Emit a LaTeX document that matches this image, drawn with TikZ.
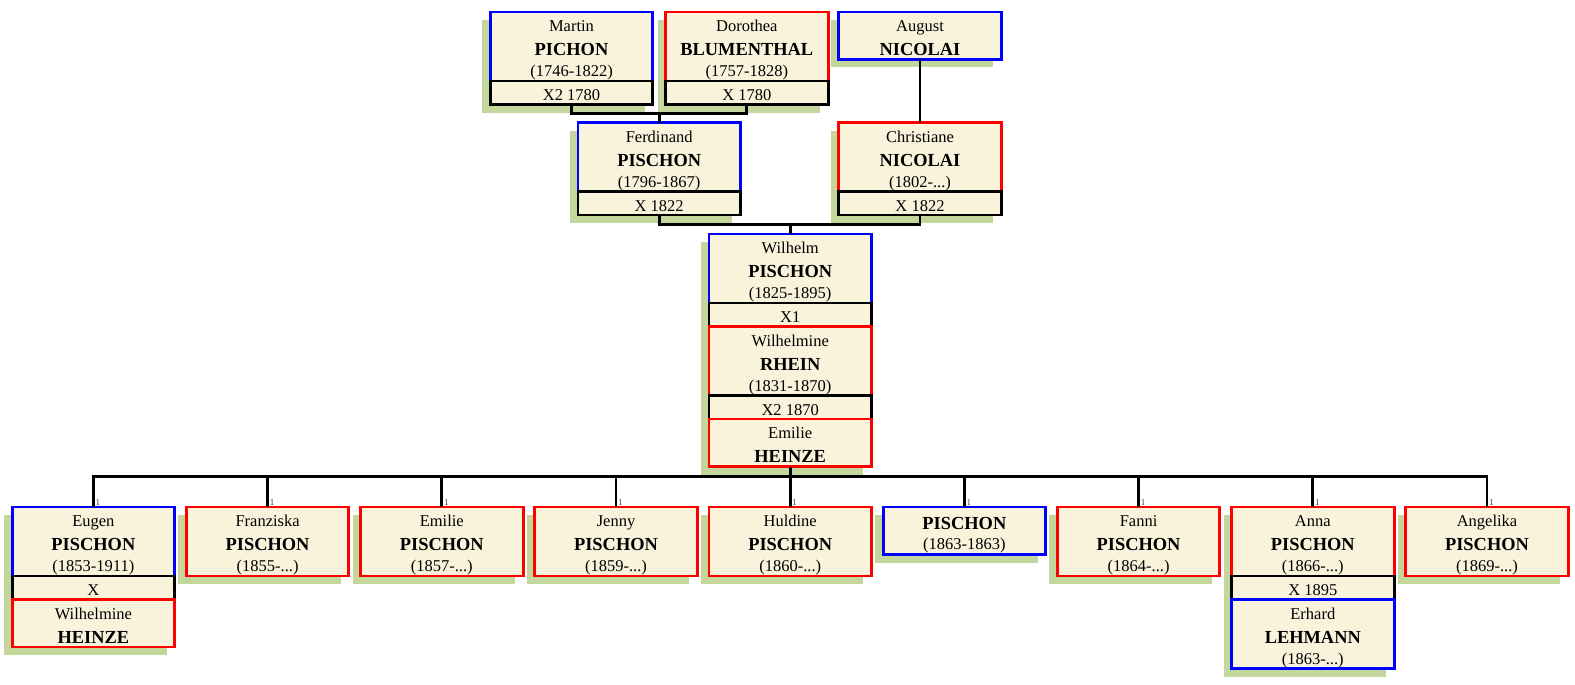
\documentclass[tikz,border=0pt]{standalone}
\usepackage{fontspec}
\setmainfont{Liberation Serif}
\usetikzlibrary{calc}
\definecolor{cream}{HTML}{FAF3DC}
\definecolor{shade}{HTML}{C3D69B}
\definecolor{mblue}{HTML}{0000FF}
\definecolor{mred}{HTML}{FF0000}
\pgfdeclarelayer{bg}
\pgfsetlayers{bg,main}
\tikzset{
  box/.style={rectangle, fill=cream, line width=2.9pt, minimum width=162.5pt,
    inner sep=0pt, outer sep=0pt, anchor=north},
  boxthree/.style={box, minimum height=69pt},
  boxtwo/.style={box, minimum height=47.5pt},
  band/.style={box, draw=black, minimum height=23.5pt},
  fn/.style={anchor=base, inner sep=0pt, font=\fontsize{16.5}{20}\selectfont},
  fb/.style={anchor=base, inner sep=0pt, font=\bfseries\fontsize{18.4}{22}\selectfont},
  onel/.style={anchor=base west, inner sep=0pt, text=black!75, font=\fontsize{9}{9}\selectfont},
  conn/.style={draw=black, line width=2.9pt},
  thinconn/.style={draw=black, line width=2pt},
  shadowbox/.style={fill=shade},
}
\newcommand\txthree[4]{%
  \node[fn] (#1a) at ([yshift=-19.5pt]#1.north) {#2};
  \node[fb] (#1b) at ([yshift=-43.5pt]#1.north) {#3};
  \node[fn] (#1c) at ([yshift=-64.5pt]#1.north) {#4};}
\newcommand\txtwo[3]{%
  \node[fn] (#1a) at ([yshift=-19.5pt]#1.north) {#2};
  \node[fb] (#1b) at ([yshift=-43.5pt]#1.north) {#3};}
\newcommand\txtwob[3]{%
  \node[fb] (#1a) at ([yshift=-22pt]#1.north) {#2};
  \node[fn] (#1b) at ([yshift=-42pt]#1.north) {#3};}
\newcommand\txband[2]{%
  \node[fn] (#1t) at ([yshift=-19.5pt]#1.north) {#2};}
\newcommand\shadowof[2]{%
  \begin{pgfonlayer}{bg}
  \fill[shadowbox] ([shift={(-8,8)}]#1.north west) rectangle ([shift={(-8,8)}]#2.south east);
  \end{pgfonlayer}}
\newcommand\onelabel[1]{%
  \node[onel] (#1one) at ([xshift=2pt,yshift=1.5pt]#1.north) {1};}

\begin{document}
\begin{tikzpicture}[x=1pt,y=-1pt]
\useasboundingbox (0,0) rectangle (1575,685);

% ---- generation 1
\node[boxthree, draw=mblue] (m) at (571.5,12) {};
\node[band] (mB) at (m.south) {};
\txthree{m}{Martin}{PICHON}{(1746-1822)}
\txband{mB}{X2 1780}
\shadowof{m}{mB}

\node[boxthree, draw=mred] (d) at (746.8,12) {};
\node[band] (dB) at (d.south) {};
\txthree{d}{Dorothea}{BLUMENTHAL}{(1757-1828)}
\txband{dB}{X 1780}
\shadowof{d}{dB}

\node[boxtwo, draw=mblue] (a) at (920,12) {};
\txtwo{a}{August}{NICOLAI}
\shadowof{a}{a}

% ---- generation 2
\node[boxthree, draw=mblue] (f) at (659.2,122.5) {};
\node[band] (fB) at (f.south) {};
\txthree{f}{Ferdinand}{PISCHON}{(1796-1867)}
\txband{fB}{X 1822}
\shadowof{f}{fB}

\node[boxthree, draw=mred] (ch) at (920,122.5) {};
\node[band] (chB) at (ch.south) {};
\txthree{ch}{Christiane}{NICOLAI}{(1802-...)}
\txband{chB}{X 1822}
\shadowof{ch}{chB}

% ---- generation 3
\node[boxthree, draw=mblue] (w) at (790.2,234) {};
\node[band] (wB) at (w.south) {};
\node[boxthree, draw=mred] (wr) at (wB.south) {};
\node[band] (wrB) at (wr.south) {};
\node[boxtwo, draw=mred] (wh) at (wrB.south) {};
\txthree{w}{Wilhelm}{PISCHON}{(1825-1895)}
\txband{wB}{X1}
\txthree{wr}{Wilhelmine}{RHEIN}{(1831-1870)}
\txband{wrB}{X2 1870}
\txtwo{wh}{Emilie}{HEINZE}
\shadowof{w}{wh}

% ---- generation 4
\node[boxthree, draw=mblue] (ca) at (93.4,507) {};
\node[band] (caB) at (ca.south) {};
\node[boxtwo, draw=mred] (caw) at (caB.south) {};
\txthree{ca}{Eugen}{PISCHON}{(1853-1911)}
\txband{caB}{X}
\txtwo{caw}{Wilhelmine}{HEINZE}
\shadowof{ca}{caw}

\node[boxthree, draw=mred] (cb) at (267.6,507) {};
\txthree{cb}{Franziska}{PISCHON}{(1855-...)}
\shadowof{cb}{cb}

\node[boxthree, draw=mred] (cc) at (441.8,507) {};
\txthree{cc}{Emilie}{PISCHON}{(1857-...)}
\shadowof{cc}{cc}

\node[boxthree, draw=mred] (cd) at (616,507) {};
\txthree{cd}{Jenny}{PISCHON}{(1859-...)}
\shadowof{cd}{cd}

\node[boxthree, draw=mred] (ce) at (790.2,507) {};
\txthree{ce}{Huldine}{PISCHON}{(1860-...)}
\shadowof{ce}{ce}

\node[boxtwo, draw=mblue] (cf) at (964.4,507) {};
\txtwob{cf}{PISCHON}{(1863-1863)}
\shadowof{cf}{cf}

\node[boxthree, draw=mred] (cg) at (1138.6,507) {};
\txthree{cg}{Fanni}{PISCHON}{(1864-...)}
\shadowof{cg}{cg}

\node[boxthree, draw=mred] (ch8) at (1312.8,507) {};
\node[band] (ch8B) at (ch8.south) {};
\node[boxthree, draw=mblue] (ch8e) at (ch8B.south) {};
\txthree{ch8}{Anna}{PISCHON}{(1866-...)}
\txband{ch8B}{X 1895}
\txthree{ch8e}{Erhard}{LEHMANN}{(1863-...)}
\shadowof{ch8}{ch8e}

\node[boxthree, draw=mred] (ci) at (1487,507) {};
\txthree{ci}{Angelika}{PISCHON}{(1869-...)}
\shadowof{ci}{ci}

% ---- connectors
\coordinate (j1) at (659.2,113.5);
\coordinate (j2) at (790.2,224.5);
\coordinate (j3) at (790.2,476.5);

\draw[conn] (mB.south) |- (j1) -| (dB.south);
\draw[conn] (j1) -- (f.north);
\draw[thinconn] (a.south) -- (ch.north);
\draw[conn] (fB.south) |- (j2) -| (chB.south);
\draw[conn] (j2) -- (w.north);
\draw[conn] (wh.south) -- (j3);
\draw[conn] (ca.north) |- (j3) -| (ci.north);
\foreach \c in {cb,cc,cd,ce,cf,cg,ch8}{
  \draw[conn] (\c.north) -- (\c.north |- j3);
}
\foreach \c in {ca,cb,cc,cd,ce,cf,cg,ch8,ci}{
  \onelabel{\c}
}
\end{tikzpicture}
\end{document}
